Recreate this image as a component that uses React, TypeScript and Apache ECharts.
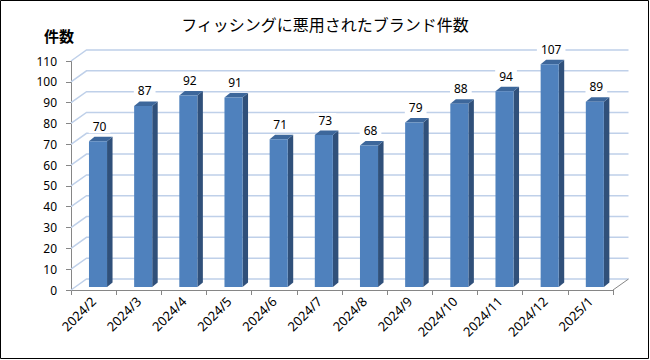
import { useEffect, useRef } from "react";
import * as echarts from "echarts";

const title = "フィッシングに悪用されたブランド件数";
const yAxisName = "件数";
const categories = [
  "2024/2", "2024/3", "2024/4", "2024/5", "2024/6", "2024/7",
  "2024/8", "2024/9", "2024/10", "2024/11", "2024/12", "2025/1",
];
const counts = [70, 87, 92, 91, 71, 73, 68, 79, 88, 94, 107, 89];
const yTicks = [0, 10, 20, 30, 40, 50, 60, 70, 80, 90, 100, 110];

const FONT = "'Noto Sans', 'Noto Sans CJK JP', sans-serif";
const CJK = "'Noto Sans CJK JP', sans-serif";
const DX = 15.5;
const DY = -11;

export default function App() {
  const ref = useRef<HTMLDivElement>(null);
  useEffect(() => {
    if (!ref.current) return;
    const chart = echarts.init(ref.current, undefined, { renderer: "svg" });
    chart.setOption({
      animation: false,
      backgroundColor: "#ffffff",
      title: {
        text: title,
        left: "center",
        top: 11,
        textStyle: { fontFamily: CJK, fontSize: 16, fontWeight: "normal", color: "#000" },
      },
      graphic: [
        {
          type: "rect",
          silent: true,
          shape: { x: 0.5, y: 0.5, width: 648, height: 358 },
          style: { fill: "none", stroke: "#000", lineWidth: 1 },
          z: 100,
        },
        {
          type: "text",
          x: 59,
          y: 35,
          style: {
            text: yAxisName,
            font: `bold 15px ${CJK}`,
            fill: "#000",
            align: "center",
            verticalAlign: "middle",
          },
        },
      ],
      grid: { left: 71, right: 37, top: 61, bottom: 70 },
      xAxis: {
        type: "category",
        data: categories,
        axisLine: { show: true, lineStyle: { color: "#868686", width: 1 } },
        axisTick: { show: true, length: 5, lineStyle: { color: "#868686" } },
        axisLabel: {
          interval: 0,
          rotate: 45,
          margin: 9,
          fontSize: 13,
          fontFamily: FONT,
          color: "#000",
        },
        splitLine: { show: false },
      },
      yAxis: {
        type: "value",
        min: 0,
        max: 110,
        interval: 10,
        axisLine: { show: true, lineStyle: { color: "#868686", width: 1 } },
        axisTick: { show: true, length: 5, lineStyle: { color: "#868686" } },
        axisLabel: { margin: 14, fontSize: 12, fontFamily: FONT, color: "#000" },
        splitLine: { show: false },
      },
      series: [
        {
          type: "custom",
          z: 1,
          silent: true,
          data: yTicks.map((v) => [0, v]),
          renderItem: (params: any, api: any) => {
            const v = api.value(1);
            const cs = params.coordSys;
            const y = api.coord([0, v])[1];
            const x0 = cs.x;
            const x1 = cs.x + cs.width;
            const children: any[] = [
              {
                type: "polyline",
                shape: { points: [[x0, y], [x0 + DX, y + DY], [x1 + DX, y + DY]] },
                style: { stroke: "#BFD0E9", fill: "none", lineWidth: 1.5 },
              },
            ];
            if (v === 0) {
              children.push({
                type: "line",
                shape: { x1: x1, y1: y, x2: x1 + DX, y2: y + DY },
                style: { stroke: "#868686", lineWidth: 1 },
              });
            }
            return { type: "group", children };
          },
        },
        {
          type: "custom",
          z: 5,
          data: counts.map((v, i) => [i, v]),
          renderItem: (params: any, api: any) => {
            const i = api.value(0);
            const v = api.value(1);
            const top = api.coord([i, v]);
            const base = api.coord([i, 0]);
            const bw = api.size([1, 0])[0];
            const cx = top[0] + bw * 0.098;
            const w = bw * 0.4;
            const x0 = cx - w / 2;
            const x1 = cx + w / 2;
            const yb = base[1] - 3;
            const yt = top[1] - 3;
            const sx = 5.5;
            const sy = -4.5;
            return {
              type: "group",
              children: [
                {
                  type: "polygon",
                  shape: { points: [[x1, yt], [x1 + sx, yt + sy], [x1 + sx, yb + sy], [x1, yb]] },
                  style: { fill: "#30507A", stroke: "none" },
                },
                {
                  type: "polygon",
                  shape: { points: [[x0, yt], [x0 + sx, yt + sy], [x1 + sx, yt + sy], [x1, yt]] },
                  style: { fill: "#3D679B", stroke: "none" },
                },
                {
                  type: "rect",
                  shape: { x: x0, y: yt, width: w, height: yb - yt },
                  style: { fill: "#4F81BD", stroke: "none" },
                },
                {
                  type: "text",
                  x: cx + 1.5,
                  y: yt - 15,
                  style: {
                    text: String(v),
                    font: `12px ${FONT}`,
                    fill: "#000",
                    align: "center",
                    verticalAlign: "middle",
                    backgroundColor: "#ffffff",
                    padding: [1, 4],
                  },
                },
              ],
            };
          },
        },
      ],
    });
    return () => chart.dispose();
  }, []);
  return (
    <div
      ref={ref}
      style={{ position: "absolute", left: 0, top: 0, width: 650, height: 360 }}
    />
  );
}
